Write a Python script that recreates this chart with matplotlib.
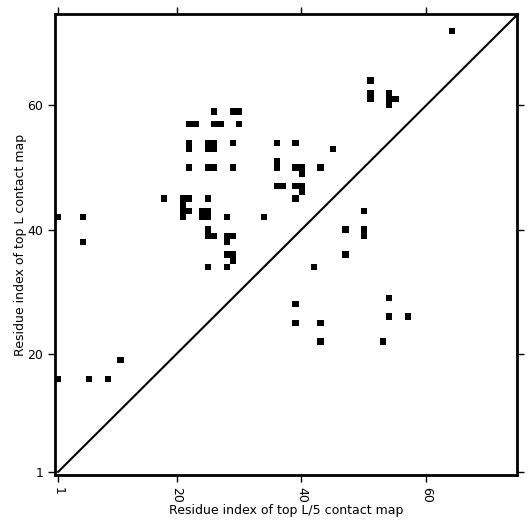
import numpy as np
import matplotlib
matplotlib.use('Agg')
import matplotlib.pyplot as plt

L = 75

# top L contacts (upper triangle), 1-based residue indices
top_l_i = [1, 5, 5, 11, 1, 6, 9,
           26, 29, 30, 22, 23, 26, 27, 30, 22, 22, 25, 26, 25, 26, 29, 22, 25, 26, 29,
           18, 21, 22, 21, 21, 22, 21, 25, 24, 25, 24, 25, 28, 25, 25, 26, 28, 29, 28,
           28, 29, 29, 25, 28, 34,
           36, 39, 45, 36, 36, 39, 40, 40, 43, 36, 37, 39, 40, 40, 39,
           64, 51, 51, 51, 54, 54, 54, 55]
top_l_j = [42, 42, 38, 19, 16, 16, 16,
           59, 59, 59, 57, 57, 57, 57, 57, 54, 53, 54, 54, 53, 53, 54, 50, 50, 50, 50,
           45, 45, 45, 44, 43, 43, 42, 45, 43, 43, 42, 42, 42, 40, 39, 39, 39, 39, 38,
           36, 36, 35, 34, 34, 42,
           54, 54, 53, 51, 50, 50, 50, 49, 50, 47, 47, 47, 47, 46, 45,
           72, 64, 62, 61, 62, 61, 60, 61]

# top L/5 contacts (lower triangle)
top_l5_i = [42, 47, 47, 50, 50, 50, 39, 39, 43, 43, 54, 54, 57, 53]
top_l5_j = [34, 40, 36, 43, 40, 39, 28, 25, 25, 22, 29, 26, 26, 22]

cmap = np.zeros((L, L))
for i, j in zip(top_l_i, top_l_j):
    cmap[j - 1, i - 1] = 1
for i, j in zip(top_l5_i, top_l5_j):
    cmap[j - 1, i - 1] = 1

plt.rcParams['font.size'] = 9

fig = plt.figure(figsize=(5.31, 5.31), dpi=100)
ax = fig.add_axes([0.1036, 0.1055, 0.8706, 0.8681])
ax.imshow(cmap, cmap='Greys', origin='lower', interpolation='nearest',
          extent=(0.5, L + 0.5, 0.5, L + 0.5), aspect='auto', vmin=0, vmax=1)
ax.plot([1, L + 1], [1, L + 1], color='black', lw=1.5)
ax.set_xlim(0.5, 74.6)
ax.set_ylim(0.5, 74.7)

ticks = [1, 20, 40, 60]
ax.set_xticks(ticks)
ax.set_yticks(ticks)
ax.set_xticklabels([str(t) for t in ticks], rotation=270)
ax.set_yticklabels([str(t) for t in ticks])
ax.tick_params(top=True, right=True, direction='out', length=5, width=1)
for s in ax.spines.values():
    s.set_linewidth(2)

ax.set_xlabel('Residue index of top L/5 contact map', labelpad=1)
ax.set_ylabel('Residue index of top L contact map', labelpad=0)

fig.savefig('out.png', dpi=100)
